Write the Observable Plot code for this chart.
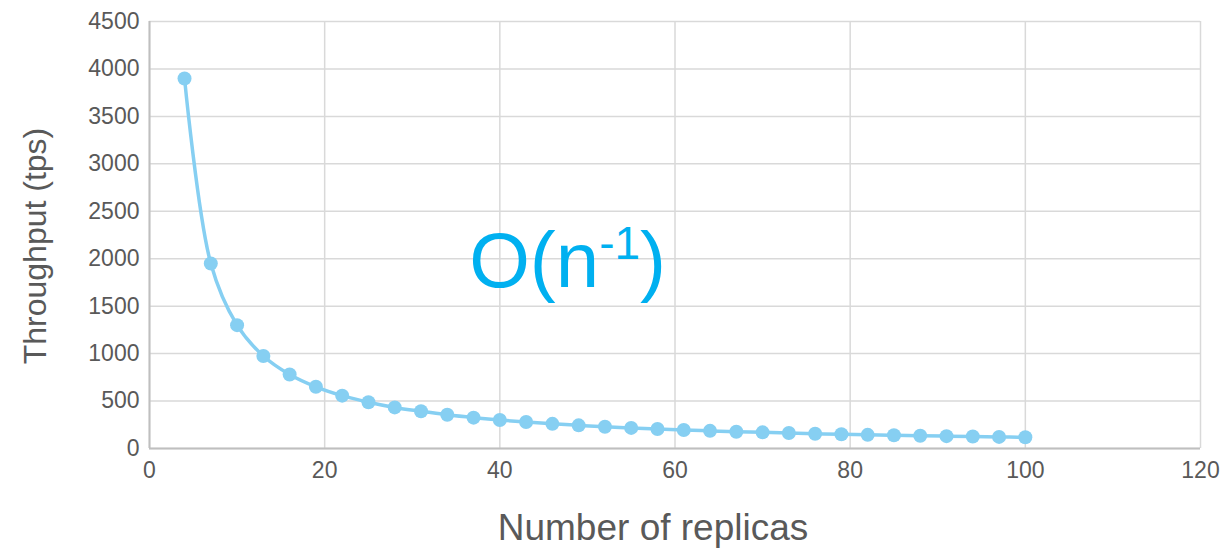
<!DOCTYPE html>
<html>
<head>
<meta charset="utf-8">
<script src="https://cdn.jsdelivr.net/npm/d3@7"></script>
<script src="https://cdn.jsdelivr.net/npm/@observablehq/plot@0.6"></script>
<style>
  html, body { margin: 0; padding: 0; background: #ffffff; }
  #chart { width: 1225px; height: 550px; }
</style>
</head>
<body>
<div id="chart"></div>
<script>
// Number of replicas in the cluster
const replicas = [4, 7, 10, 13, 16, 19, 22, 25, 28, 31, 34, 37, 40, 43, 46, 49, 52,
  55, 58, 61, 64, 67, 70, 73, 76, 79, 82, 85, 88, 91, 94, 97, 100];

// Measured throughput (transactions per second)
const throughput = [3900, 1950, 1300, 975, 780, 650, 557, 488, 433, 392, 355, 325,
  300, 279, 260, 244, 229, 217, 205, 195, 186, 177, 170, 163, 156, 150, 144, 139,
  134, 130, 126, 122, 118];

// Axis ticks
const xTicks = [0, 20, 40, 60, 80, 100, 120];
const yTicks = [0, 500, 1000, 1500, 2000, 2500, 3000, 3500, 4000, 4500];

// Titles and annotation
const xTitle = "Number of replicas";
const yTitle = "Throughput (tps)";
const complexity = [{x: 36.5, y: 1960, label: "O(n-1)"}];

const data = replicas.map((r, i) => ({replicas: r, tps: throughput[i]}));

const seriesColor = "#86cff2";
const gridColor = "#d9d9d9";
const axisColor = "#bfbfbf";
const textColor = "#595959";

const chart = Plot.plot({
  width: 1225,
  height: 550,
  marginLeft: 149,
  marginRight: 25,
  marginTop: 21,
  marginBottom: 102,
  style: {
    fontFamily: "'Liberation Sans', Arial, sans-serif",
    color: textColor,
    background: "#ffffff"
  },
  x: {domain: [0, 120]},
  y: {domain: [0, 4500]},
  marks: [
    Plot.ruleX(xTicks, {stroke: gridColor, strokeWidth: 1.5}),
    Plot.ruleY(yTicks, {stroke: gridColor, strokeWidth: 1.5}),
    Plot.ruleX([0], {stroke: axisColor, strokeWidth: 2}),
    Plot.ruleY([0], {stroke: axisColor, strokeWidth: 2}),
    Plot.axisX({ticks: xTicks, tickSize: 0, tickPadding: 13, fontSize: 23, fill: textColor, label: null, tickFormat: d => String(d)}),
    Plot.axisY({ticks: yTicks, tickSize: 0, tickPadding: 10, fontSize: 23, fill: textColor, label: null, tickFormat: d => String(d)}),
    Plot.line(data, {x: "replicas", y: "tps", stroke: seriesColor, strokeWidth: 3.5, curve: "catmull-rom"}),
    Plot.dot(data, {x: "replicas", y: "tps", r: 7, fill: seriesColor, stroke: "none"}),
    Plot.text(complexity, {x: "x", y: "y", text: "label", fill: "#00b0f0", fontSize: 78, textAnchor: "start"}),
    Plot.text([xTitle], {frameAnchor: "bottom", dy: 80, dx: -22, fontSize: 37, fill: textColor, lineAnchor: "middle", textAnchor: "middle"}),
    Plot.text([yTitle], {frameAnchor: "left", dx: -114, dy: 11, rotate: -90, fontSize: 32, fill: textColor, lineAnchor: "middle", textAnchor: "middle"})
  ]
});

// Typeset the exponent of the complexity label as a superscript
d3.select(chart).selectAll("text")
  .filter(function () { return this.textContent === "O(n-1)"; })
  .each(function () {
    const t = d3.select(this);
    t.text(null);
    t.append("tspan").text("O(n");
    t.append("tspan").attr("font-size", 46).attr("dy", -28).text("-1");
    t.append("tspan").attr("dy", 28).text(")");
  });

document.getElementById("chart").appendChild(chart);
</script>
</body>
</html>
